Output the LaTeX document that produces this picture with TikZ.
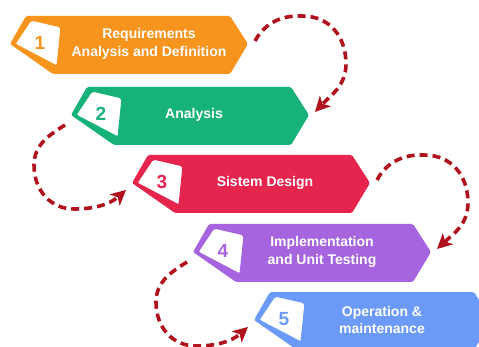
\documentclass[tikz,border=0pt]{standalone}
\usepackage{fontspec}
\setsansfont{Liberation Sans}
\usetikzlibrary{arrows.meta}

\definecolor{stepOrange}{HTML}{F7941D}
\definecolor{stepGreen}{HTML}{17B27A}
\definecolor{stepRed}{HTML}{E6254F}
\definecolor{stepPurple}{HTML}{A664DE}
\definecolor{stepBlue}{HTML}{6B9AF8}
\definecolor{loopRed}{HTML}{B0131D}

\tikzset{
  banner/.style={rounded corners=1.5pt},
  numbox/.style={fill=white,line width=1pt,rounded corners=2pt},
  steptext/.style={text=white,font=\sffamily\bfseries\fontsize{14}{17.5}\selectfont,align=center},
  numtext/.style={font=\sffamily\bfseries\fontsize{19}{19}\selectfont},
  flow/.style={draw=loopRed,line width=3.6pt,dash pattern=on 8pt off 5pt,
    -{Stealth[length=15pt,width=15pt,inset=4pt]}}
}

\begin{document}
\begin{tikzpicture}[x=1pt,y=-1pt]
        \useasboundingbox (0,0) rectangle (479,347);
        \clip (0,0) rectangle (479,347);
        % the five steps
        \foreach \n/\x/\y/\c/\tx/\txt in {
            1/10/44/stepOrange/139/{Requirements\\Analysis and Definition},
            2/71/115/stepGreen/123/{Analysis},
            3/132/183/stepRed/133/{Sistem Design},
            4/193/252/stepPurple/129/{Implementation\\and Unit Testing},
            5/254/320/stepBlue/128/{Operation \&\\maintenance}}{
          \coordinate (L\n) at (\x,\y);
          \coordinate (R\n) at (\x+238,\y);
          \fill[banner,\c] (L\n) -- +(16,-28) -- +(220,-28) -- +(238,0) -- +(220,30) -- +(43,30) -- cycle;
          \filldraw[numbox,draw=\c] (L\n) +(5,0) -- +(21,-24) -- +(51,-17) -- +(47,22) -- cycle;
          \node[numtext,text=\c] (num\n) at ([shift={(30,-1)}]L\n) {\n};
          \node[steptext] (txt\n) at ([shift={(\tx,0)}]L\n) {\txt};
        }
        % loops on the right
        \foreach \i/\j in {1/2,3/4}
          \draw[flow] ([shift={(7,-3)}]R\i) .. controls ([shift={(15,-18)}]R\i) and ([shift={(30,-29)}]R\i) .. ([shift={(54,-28)}]R\i)
            .. controls ([shift={(82,-28)}]R\i) and ([shift={(98,-7)}]R\i) .. ([shift={(98,20)}]R\i)
            .. controls ([shift={(98,42)}]R\i) and ([shift={(82,52)}]R\i) .. ([shift={(6,-3)}]R\j);
        % loops on the left
        \foreach \i/\j in {2/3,4/5}
          \draw[flow] ([shift={(-6,10)}]L\i) .. controls ([shift={(-22,20)}]L\i) and ([shift={(-37,30)}]L\i) .. ([shift={(-37,50)}]L\i)
            .. controls ([shift={(-37,76)}]L\i) and ([shift={(-20,94)}]L\i) .. ([shift={(3,94)}]L\i)
            .. controls ([shift={(22,94)}]L\i) and ([shift={(38,90)}]L\i) .. ([shift={(-6,7)}]L\j);
      \end{tikzpicture}
\end{document}
